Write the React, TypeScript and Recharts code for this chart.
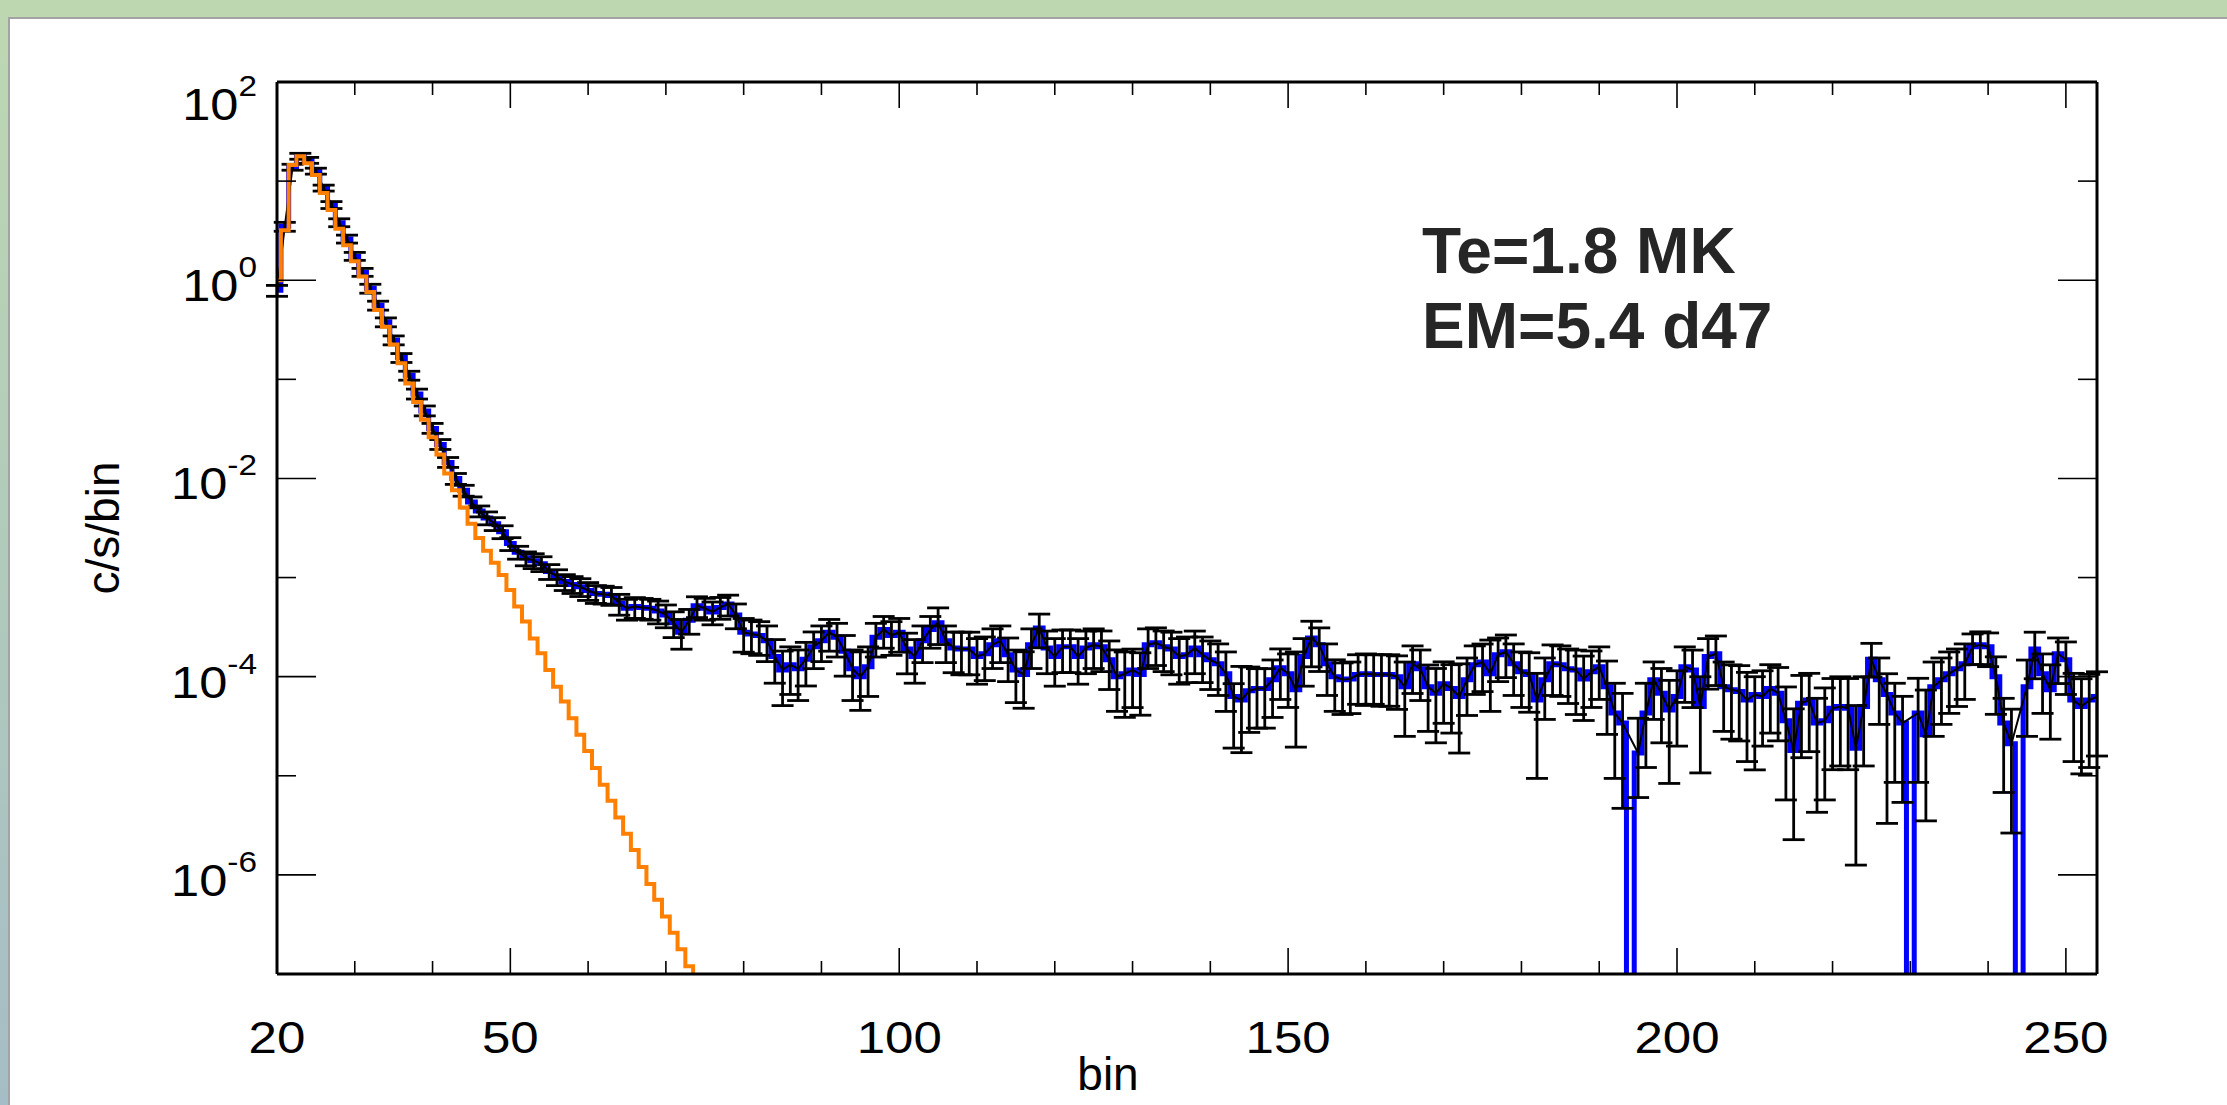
import { ComposedChart, Line, XAxis, YAxis, ErrorBar, ReferenceLine } from 'recharts'

const FIRST_BIN = 20

// measured count rate per bin (c/s/bin), bins 20..254, 0 = empty bin
const rate = [
  0.79, 3.5, 13.8, 17.8, 16.2, 12.6, 8.5, 5.8, 3.8, 2.6,
  1.74, 1.2, 0.83, 0.56, 0.38, 0.25, 0.166, 0.11, 0.071, 0.048,
  0.032, 0.022, 0.0145, 0.010, 0.0076, 0.0058, 0.0047, 0.0040, 0.0035, 0.0029,
  0.0022, 0.0018, 0.00158, 0.00148, 0.00138, 0.00115, 0.00102, 9.1e-4, 8.5e-4, 8.1e-4,
  7.4e-4, 6.9e-4, 6.8e-4, 6.6e-4, 5.5e-4, 4.9e-4, 5.1e-4, 5.0e-4, 4.9e-4, 4.6e-4,
  4.2e-4, 3.5e-4, 2.8e-4, 3.7e-4, 5.2e-4, 4.9e-4, 4.5e-4, 5.0e-4, 5.4e-4, 4.2e-4,
  2.8e-4, 2.7e-4, 2.6e-4, 2.3e-4, 1.6e-4, 1.17e-4, 1.32e-4, 1.2e-4, 1.5e-4, 2.0e-4,
  2.3e-4, 2.8e-4, 2.5e-4, 1.8e-4, 1.2e-4, 1.0e-4, 1.26e-4, 2.5e-4, 3.0e-4, 2.6e-4,
  2.8e-4, 1.9e-4, 1.6e-4, 2.3e-4, 3.0e-4, 3.5e-4, 2.3e-4, 1.95e-4, 1.9e-4, 1.9e-4,
  1.6e-4, 1.7e-4, 2.1e-4, 2.3e-4, 1.66e-4, 1.17e-4, 1.05e-4, 2.1e-4, 3.1e-4, 1.95e-4,
  1.6e-4, 2.0e-4, 2.0e-4, 1.6e-4, 1.95e-4, 2.1e-4, 2.0e-4, 1.48e-4, 1.0e-4, 1.07e-4,
  1.17e-4, 1.05e-4, 2.1e-4, 2.2e-4, 2.0e-4, 1.9e-4, 1.6e-4, 1.66e-4, 1.95e-4, 1.66e-4,
  1.48e-4, 1.35e-4, 1.07e-4, 6.3e-5, 5.8e-5, 7.2e-5, 7.6e-5, 7.6e-5, 9.3e-5, 1.23e-4,
  1.07e-4, 7.4e-5, 1.6e-4, 2.45e-4, 2.1e-4, 1.35e-4, 1.0e-4, 9.3e-5, 9.5e-5, 1.05e-4,
  1.07e-4, 1.05e-4, 1.05e-4, 1.05e-4, 1.0e-4, 7.9e-5, 1.35e-4, 1.2e-4, 7.9e-5, 6.8e-5,
  8.5e-5, 7.6e-5, 6.3e-5, 9.3e-5, 1.32e-4, 1.41e-4, 1.07e-4, 1.66e-4, 1.78e-4, 1.35e-4,
  1.12e-4, 1.05e-4, 5.8e-5, 9.3e-5, 1.35e-4, 1.32e-4, 1.2e-4, 1.17e-4, 9.5e-5, 1.12e-4,
  1.26e-4, 7.9e-5, 4.3e-5, 3.4e-5, 0, 1.7e-5, 4.3e-5, 9.3e-5, 6.8e-5, 4.6e-5,
  6.3e-5, 1.26e-4, 1.17e-4, 5.0e-5, 1.6e-4, 1.7e-4, 7.9e-5, 7.4e-5, 7.1e-5, 5.8e-5,
  6.6e-5, 6.3e-5, 7.6e-5, 6.8e-5, 3.6e-5, 1.8e-5, 5.4e-5, 5.8e-5, 3.4e-5, 3.6e-5,
  4.8e-5, 5.0e-5, 4.8e-5, 1.9e-5, 5.0e-5, 1.5e-4, 9.3e-5, 6.6e-5, 4.3e-5, 3.4e-5,
  0, 4.3e-5, 2.6e-5, 7.9e-5, 9.3e-5, 1.07e-4, 1.2e-4, 1.35e-4, 2.0e-4, 2.1e-4,
  2.0e-4, 1.0e-4, 3.4e-5, 2.1e-5, 0, 7.9e-5, 1.9e-4, 1.07e-4, 7.4e-5, 1.7e-4,
  1.48e-4, 5.8e-5, 5.0e-5, 5.8e-5, 6.3e-5,
]

// error bar lengths above / below each point, in decades on the log axis
const errUp = [
  0.05, 0.04, 0.03, 0.03, 0.03, 0.03, 0.03, 0.03, 0.04, 0.04,
  0.04, 0.04, 0.04, 0.04, 0.04, 0.04, 0.04, 0.04, 0.05, 0.05,
  0.05, 0.05, 0.05, 0.05, 0.05, 0.05, 0.05, 0.06, 0.06, 0.06,
  0.06, 0.06, 0.06, 0.07, 0.07, 0.07, 0.07, 0.07, 0.08, 0.08,
  0.08, 0.08, 0.08, 0.08, 0.09, 0.09, 0.09, 0.09, 0.09, 0.10,
  0.10, 0.11, 0.13, 0.11, 0.09, 0.10, 0.10, 0.10, 0.09, 0.11,
  0.14, 0.14, 0.14, 0.15, 0.17, 0.19, 0.18, 0.19, 0.17, 0.15,
  0.15, 0.13, 0.14, 0.16, 0.19, 0.25, 0.20, 0.14, 0.13, 0.14,
  0.14, 0.16, 0.17, 0.15, 0.13, 0.15, 0.15, 0.16, 0.17, 0.17,
  0.18, 0.17, 0.16, 0.15, 0.17, 0.20, 0.23, 0.16, 0.14, 0.17,
  0.18, 0.17, 0.17, 0.18, 0.17, 0.16, 0.16, 0.19, 0.27, 0.22,
  0.21, 0.22, 0.16, 0.15, 0.16, 0.17, 0.18, 0.18, 0.17, 0.18,
  0.19, 0.20, 0.22, 0.13, 0.34, 0.24, 0.20, 0.20, 0.20, 0.19,
  0.20, 0.38, 0.18, 0.17, 0.17, 0.20, 0.17, 0.17, 0.17, 0.20,
  0.20, 0.20, 0.20, 0.20, 0.21, 0.25, 0.18, 0.19, 0.22, 0.25,
  0.22, 0.24, 0.33, 0.22, 0.19, 0.18, 0.34, 0.17, 0.17, 0.20,
  0.20, 0.22, 0.27, 0.22, 0.19, 0.19, 0.20, 0.20, 0.23, 0.21,
  0.20, 0.26, 0.30, 0.30, 0, 0.35, 0.30, 0.18, 0.25, 0.30,
  0.26, 0.20, 0.20, 0.30, 0.18, 0.18, 0.25, 0.25, 0.26, 0.28,
  0.18, 0.26, 0.24, 0.26, 0.34, 0.42, 0.28, 0.27, 0.25, 0.33,
  0.30, 0.30, 0.30, 0.43, 0.30, 0.16, 0.22, 0.21, 0.30, 0.27,
  0, 0.35, 0.45, 0.25, 0.22, 0.22, 0.20, 0.20, 0.13, 0.13,
  0.14, 0.20, 0.25, 0.35, 0, 0.27, 0.17, 0.20, 0.25, 0.16,
  0.18, 0.27, 0.28, 0.26, 0.25,
]
const errDn = [
  0.06, 0.05, 0.03, 0.03, 0.03, 0.03, 0.03, 0.04, 0.04, 0.04,
  0.04, 0.04, 0.05, 0.05, 0.05, 0.05, 0.05, 0.05, 0.05, 0.05,
  0.05, 0.05, 0.05, 0.06, 0.06, 0.06, 0.06, 0.07, 0.07, 0.07,
  0.07, 0.07, 0.08, 0.08, 0.08, 0.08, 0.09, 0.09, 0.09, 0.10,
  0.10, 0.10, 0.10, 0.10, 0.12, 0.12, 0.12, 0.12, 0.12, 0.13,
  0.13, 0.15, 0.17, 0.14, 0.12, 0.12, 0.13, 0.12, 0.12, 0.14,
  0.20, 0.20, 0.20, 0.21, 0.27, 0.36, 0.30, 0.32, 0.27, 0.22,
  0.21, 0.19, 0.20, 0.25, 0.32, 0.34, 0.30, 0.20, 0.19, 0.20,
  0.20, 0.25, 0.27, 0.22, 0.19, 0.22, 0.22, 0.25, 0.26, 0.26,
  0.28, 0.27, 0.24, 0.22, 0.27, 0.33, 0.34, 0.24, 0.20, 0.26,
  0.30, 0.26, 0.26, 0.28, 0.26, 0.24, 0.25, 0.30, 0.35, 0.44,
  0.38, 0.41, 0.24, 0.23, 0.25, 0.26, 0.28, 0.28, 0.26, 0.28,
  0.30, 0.32, 0.38, 0.52, 0.53, 0.42, 0.40, 0.40, 0.38, 0.32,
  0.34, 0.58, 0.30, 0.29, 0.27, 0.32, 0.35, 0.35, 0.35, 0.30,
  0.32, 0.30, 0.32, 0.32, 0.33, 0.50, 0.30, 0.32, 0.45, 0.50,
  0.40, 0.45, 0.57, 0.36, 0.30, 0.30, 0.38, 0.27, 0.26, 0.32,
  0.36, 0.38, 0.79, 0.40, 0.32, 0.32, 0.35, 0.45, 0.42, 0.36,
  0.33, 0.48, 0.66, 0.86, 0, 0.45, 0.55, 0.40, 0.50, 0.74,
  0.50, 0.36, 0.38, 0.67, 0.33, 0.32, 0.45, 0.50, 0.50, 0.62,
  0.76, 0.50, 0.45, 0.48, 0.80, 0.90, 0.55, 0.52, 0.90, 0.80,
  0.62, 0.60, 0.62, 1.18, 0.60, 0.18, 0.45, 1.30, 0.70, 0.80,
  0, 0.70, 0.87, 0.50, 0.45, 0.40, 0.38, 0.36, 0.18, 0.20,
  0.20, 0.38, 0.70, 0.90, 0, 0.50, 0.30, 0.40, 0.50, 0.30,
  0.35, 0.62, 0.68, 0.68, 0.60,
]

// thermal model (orange), bins 20..74
const thermal = [
  1.0, 3.2, 14.5, 17.8, 15.1, 11.5, 7.6, 5.1, 3.3, 2.26,
  1.55, 1.09, 0.76, 0.50, 0.34, 0.224, 0.145, 0.091, 0.059, 0.039,
  0.026, 0.0174, 0.0112, 0.0076, 0.0051, 0.0035, 0.0025, 0.00186, 0.00141, 0.00106,
  7.5e-4, 5.1e-4, 3.6e-4, 2.43e-4, 1.72e-4, 1.17e-4, 7.9e-5, 5.6e-5, 3.8e-5, 2.6e-5,
  1.78e-5, 1.2e-5, 8.1e-6, 5.6e-6, 3.8e-6, 2.6e-6, 1.78e-6, 1.2e-6, 8.1e-7, 5.6e-7,
  3.8e-7, 2.6e-7, 1.78e-7, 1.2e-7, 8.1e-8,
]

const xTicks = [20, 30, 40, 50, 60, 70, 80, 90, 100, 110, 120, 130, 140, 150, 160, 170, 180, 190, 200, 210, 220, 230, 240, 250]
const yTicks = [1e-6, 1e-5, 1e-4, 1e-3, 1e-2, 1e-1, 1, 10, 100]

const W = 2227
const H = 1105
const PLOT = { left: 277, top: 82, right: 2097, bottom: 974 }
const XAXIS_H = 100
const YAXIS_W = 200
const FONT = "'Liberation Sans', Arial, Helvetica, sans-serif"
const EMPTY = 1e-9 // empty bins fall off the bottom of the log axis

const histRows = rate.map((v, i) => ({ bin: FIRST_BIN + i, rate: v > 0 ? v : EMPTY }))
const pointRows = rate
  .map((v, i) => ({
    bin: FIRST_BIN + i,
    rate: v,
    err: [v - v * 10 ** -errDn[i], v * 10 ** errUp[i] - v],
  }))
  .filter((r) => r.rate > 0)
const modelRows = thermal.map((v, i) => ({ bin: FIRST_BIN + i, model: v }))

function BinTick(props: any) {
  const { x, payload } = props
  const v = payload.value
  const major = v % 50 === 0
  const len = v === 20 ? 0 : major ? 26 : 13
  return (
    <g>
      {len > 0 && <line x1={x} x2={x} y1={PLOT.bottom} y2={PLOT.bottom - len} stroke="#000" strokeWidth={1.6} />}
      {len > 0 && <line x1={x} x2={x} y1={PLOT.top} y2={PLOT.top + len} stroke="#000" strokeWidth={1.6} />}
      {(major || v === 20) && (
        <g transform={`translate(${x},1053) scale(1.16,1)`}>
          <text x={0} y={0} textAnchor="middle" fontSize={44} fontFamily={FONT} fill="#000">
            {v}
          </text>
        </g>
      )}
    </g>
  )
}

function RateTick(props: any) {
  const { y, payload } = props
  const e = Math.round(Math.log10(payload.value))
  const major = e % 2 === 0
  const len = major ? 39 : 19
  const base = y + (e === 2 ? 38 : 21)
  return (
    <g>
      {e < 2 && <line x1={PLOT.left} x2={PLOT.left + len} y1={y} y2={y} stroke="#000" strokeWidth={1.6} />}
      {e < 2 && <line x1={PLOT.right} x2={PLOT.right - len} y1={y} y2={y} stroke="#000" strokeWidth={1.6} />}
      {major && (
        <g transform={`translate(257,${base}) scale(1.15,1)`}>
          <text x={0} y={0} textAnchor="end" fontSize={44} fontFamily={FONT} fill="#000">
            10
            <tspan dy={-24} fontSize={29}>
              {e}
            </tspan>
          </text>
        </g>
      )}
    </g>
  )
}

export default function App() {
  return (
    <div
      style={{
        position: 'absolute',
        left: 0,
        top: 0,
        width: W,
        height: H,
        overflow: 'hidden',
        background: 'linear-gradient(#bdd8b1, #a5bdc6)',
        fontFamily: FONT,
      }}
    >
      <div
        style={{
          position: 'absolute',
          left: 8,
          top: 17,
          right: 0,
          bottom: 0,
          background: '#fff',
          borderTop: '2px solid #a3a3a3',
          borderLeft: '2px solid #a3a3a3',
        }}
      />
      <div style={{ position: 'absolute', left: 0, top: 0 }}>
        <ComposedChart
          width={W}
          height={H}
          margin={{
            top: PLOT.top,
            right: W - PLOT.right,
            bottom: H - PLOT.bottom - XAXIS_H,
            left: PLOT.left - YAXIS_W,
          }}
        >
          <XAxis
            type="number"
            dataKey="bin"
            domain={[20, 254]}
            allowDataOverflow
            ticks={xTicks}
            interval={0}
            tick={BinTick}
            tickLine={false}
            axisLine={{ stroke: '#000', strokeWidth: 3 }}
            height={XAXIS_H}
          />
          <YAxis
            type="number"
            scale="log"
            domain={[1e-7, 100]}
            allowDataOverflow
            ticks={yTicks}
            interval={0}
            tick={RateTick}
            tickLine={false}
            axisLine={{ stroke: '#000', strokeWidth: 3 }}
            width={YAXIS_W}
          />
          <ReferenceLine y={100} stroke="#000" strokeWidth={3} />
          <ReferenceLine x={254} stroke="#000" strokeWidth={3} />
          <Line
            data={histRows}
            dataKey="rate"
            type="step"
            stroke="#0000ff"
            strokeWidth={5}
            dot={false}
            isAnimationActive={false}
          />
          <Line
            data={pointRows}
            dataKey="rate"
            type="linear"
            stroke="#000"
            strokeWidth={2}
            dot={false}
            isAnimationActive={false}
          >
            <ErrorBar dataKey="err" width={11} strokeWidth={2.8} stroke="#000" />
          </Line>
          <Line
            data={modelRows}
            dataKey="model"
            type="step"
            stroke="#ff7f00"
            strokeWidth={4}
            dot={false}
            isAnimationActive={false}
          />
        </ComposedChart>
      </div>
      <svg width={W} height={H} style={{ position: 'absolute', left: 0, top: 0, pointerEvents: 'none' }}>
        <text transform="translate(119,528) rotate(-90)" textAnchor="middle" fontSize={46} fontFamily={FONT} fill="#000">
          c/s/bin
        </text>
        <text x={1108} y={1090} textAnchor="middle" fontSize={46} fontFamily={FONT} fill="#000">
          bin
        </text>
        <text x={1422} y={273} fontSize={64} fontWeight="bold" fontFamily={FONT} fill="#262626">
          Te=1.8 MK
        </text>
        <text x={1422} y={348} fontSize={64} fontWeight="bold" fontFamily={FONT} fill="#262626">
          EM=5.4 d47
        </text>
      </svg>
    </div>
  )
}
